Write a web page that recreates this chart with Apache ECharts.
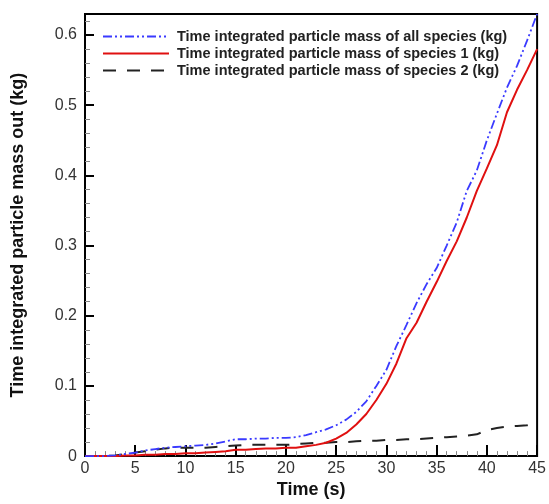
<!DOCTYPE html>
<html>
<head>
<meta charset="utf-8">
<script src="https://cdn.jsdelivr.net/npm/echarts@6/dist/echarts.min.js"></script>
<style>html,body{margin:0;padding:0;background:#fff;}#c{width:549px;height:504px;}</style>
</head>
<body>
<div id="c"></div>
<script>
var times = [0,1,2,3,4,5,6,7,8,9,10,11,12,13,14,15,16,17,18,19,20,21,22,23,24,25,26,27,28,29,30,31,32,33,34,35,36,37,38,39,40,41,42,43,44,45];
var allSpecies = [0,0,0,0.001,0.003,0.005,0.008,0.010,0.012,0.013,0.014,0.015,0.016,0.018,0.021,0.024,0.024,0.025,0.025,0.026,0.026,0.027,0.030,0.034,0.038,0.044,0.052,0.063,0.078,0.100,0.123,0.157,0.187,0.218,0.245,0.268,0.300,0.333,0.378,0.407,0.450,0.488,0.525,0.556,0.592,0.630];
var species1 = [0,0,0,0,0.001,0.001,0.002,0.002,0.003,0.003,0.004,0.004,0.005,0.006,0.007,0.009,0.009,0.010,0.011,0.011,0.012,0.012,0.014,0.016,0.019,0.025,0.033,0.045,0.060,0.080,0.103,0.132,0.168,0.190,0.220,0.248,0.278,0.306,0.340,0.378,0.410,0.443,0.490,0.522,0.550,0.580];
var species2 = [0,0,0,0.001,0.003,0.005,0.007,0.009,0.011,0.012,0.012,0.012,0.012,0.013,0.014,0.015,0.016,0.016,0.016,0.016,0.016,0.017,0.018,0.019,0.019,0.020,0.020,0.021,0.022,0.022,0.023,0.023,0.024,0.024,0.025,0.026,0.027,0.028,0.029,0.031,0.037,0.040,0.042,0.043,0.044,0.050];
var seriesNames = ['Time integrated particle mass of all species (kg)','Time integrated particle mass of species 1 (kg)','Time integrated particle mass of species 2 (kg)'];
var xTicks = [0,5,10,15,20,25,30,35,40,45];
var yTicks = [0,0.1,0.2,0.3,0.4,0.5,0.6];

function pairs(v){ return times.map(function(t,i){ return [t, v[i]]; }); }

var chart = echarts.init(document.getElementById('c'), null, {renderer:'canvas'});
var font = 'Liberation Sans, Arial, Helvetica, sans-serif';
chart.setOption({
  animation:false,
  backgroundColor:'#fff',
  textStyle:{fontFamily:font},
  grid:{left:85,right:9,top:14,bottom:44,show:true,borderColor:'#000',borderWidth:2,backgroundColor:'transparent'},
  legend:{
    orient:'vertical', left:97, top:24, itemWidth:66, itemHeight:14, itemGap:2,
    data:seriesNames,
    itemStyle:{opacity:0},
    textStyle:{fontFamily:font,fontWeight:'bold',fontSize:14.5,color:'#222',padding:[0,0,0,3]}
  },
  xAxis:{
    type:'value', min:0, max:45, interval:5,
    name:'Time (s)', nameLocation:'middle', nameGap:24,
    nameTextStyle:{fontFamily:font,fontWeight:'bold',fontSize:18,color:'#111'},
    axisLine:{show:true,lineStyle:{color:'#000',width:2}},
    axisTick:{show:true,inside:true,length:11,lineStyle:{color:'#000',width:2}},
    minorTick:{show:true,splitNumber:5,length:5,lineStyle:{color:'#888',width:1}},
    splitLine:{show:false},
    axisLabel:{fontFamily:font,fontSize:16,color:'#333',margin:4,
      formatter:function(v){ return xTicks.indexOf(v)>=0 ? String(v) : ''; }}
  },
  yAxis:{
    type:'value', min:0, max:0.63, interval:0.1,
    name:'Time integrated particle mass out (kg)', nameLocation:'middle', nameGap:58, nameRotate:90,
    nameTextStyle:{fontFamily:font,fontWeight:'bold',fontSize:18,color:'#111'},
    axisLine:{show:true,lineStyle:{color:'#000',width:2}},
    axisTick:{show:true,inside:true,length:9,lineStyle:{color:'#000',width:2}},
    minorTick:{show:true,splitNumber:5,length:5,lineStyle:{color:'#888',width:1}},
    splitLine:{show:false},
    axisLabel:{fontFamily:font,fontSize:16,color:'#333',margin:8,
      formatter:function(v){
        for (var i=0;i<yTicks.length;i++){ if (Math.abs(v-yTicks[i])<1e-6) return String(yTicks[i]); }
        return '';
      }}
  },
  series:[
    {name:seriesNames[0],type:'line',data:pairs(allSpecies),symbol:'none',z:3,
      lineStyle:{color:'#3a3aff',width:1.8,type:[9,3,2,3,2,3]},itemStyle:{color:'#3a3aff'}},
    {name:seriesNames[1],type:'line',data:pairs(species1),symbol:'none',z:2,
      lineStyle:{color:'#e01010',width:2},itemStyle:{color:'#e01010'}},
    {name:seriesNames[2],type:'line',data:pairs(species2),symbol:'none',z:1,
      lineStyle:{color:'#222',width:2,type:[13,11]},itemStyle:{color:'#222'}}
  ]
});
</script>
</body>
</html>
